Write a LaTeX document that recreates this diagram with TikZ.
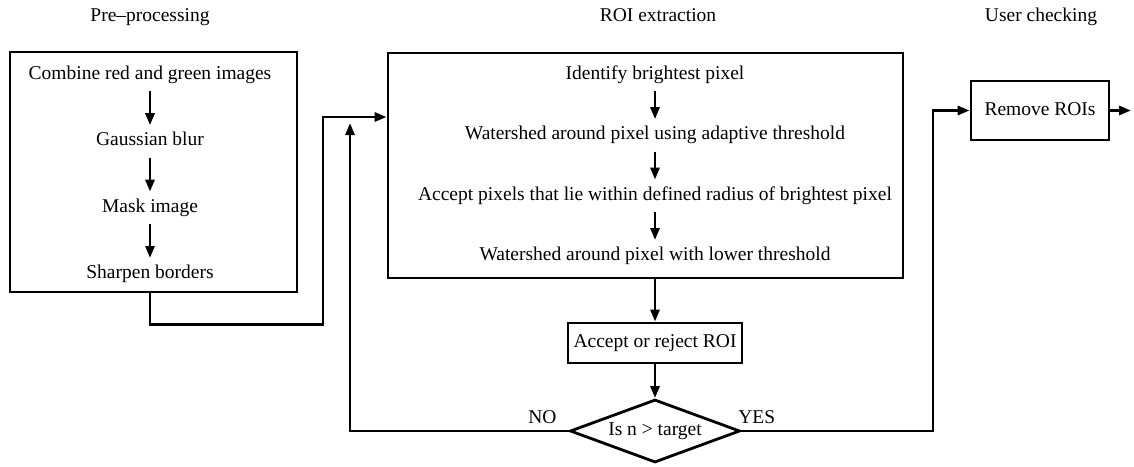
\documentclass[tikz,border=0pt]{standalone}
\usepackage{fontspec}
\setmainfont{Liberation Serif}
\usetikzlibrary{arrows.meta,positioning,shapes.geometric}
\tikzset{
  blk/.style={draw,line width=2.8pt,inner sep=0pt},
  txt/.style={font=\fontsize{19.5}{22}\selectfont,text height=13pt,text depth=4pt,
    inner xsep=2pt,inner ysep=7.5pt},
  dec/.style={blk,diamond,shape aspect=2.7,minimum width=170pt,minimum height=63pt,
    font=\fontsize{19.5}{22}\selectfont},
  arr/.style={-{Triangle[length=12pt,width=9pt]},line width=2.8pt},
}
\begin{document}
\begin{tikzpicture}[x=1pt,y=-1pt,node distance=28pt]
\useasboundingbox (0,0) rectangle (1134,466);
\node[txt] (tpre) at (150,17) {Pre--processing};
\node[txt] (troi) at (658,17) {ROI extraction};
\node[txt] (tusr) at (1041,17) {User checking};
\node[blk,minimum width=287pt,minimum height=240pt] (pre) at (153.5,172) {};
\node[txt] (comb) at (150,75) {Combine red and green images};
\node[txt,below=34pt of comb] (gauss) {Gaussian blur};
\node[txt,below=34pt of gauss] (mask) {Mask image};
\node[txt,below=34pt of mask] (sharp) {Sharpen borders};
\node[blk,minimum width=515pt,minimum height=225pt] (roi) at (645.5,165.5) {};
\node[txt] (iden) at (655,75) {Identify brightest pixel};
\node[txt,below=of iden] (ws1) {Watershed around pixel using adaptive threshold};
\node[txt,below=of ws1] (acp) {Accept pixels that lie within defined radius of brightest pixel};
\node[txt,below=of acp] (ws2) {Watershed around pixel with lower threshold};
\node[blk,txt,minimum width=174pt,minimum height=40pt] (acc) at (655,343) {Accept or reject ROI};
\node[dec] (dia) at (655,431) {Is n > target};
\node[blk,txt,minimum width=138pt,minimum height=59pt] (rem) at (1040,110.5) {Remove ROIs};
\coordinate (join) at (323,117);
\coordinate (back) at (350,123);
\coordinate (up) at (933,110.5);
\coordinate (out) at (1131,110.5);
\draw[arr] (comb)--(gauss); \draw[arr] (gauss)--(mask); \draw[arr] (mask)--(sharp);
\draw[arr] (iden)--(ws1); \draw[arr] (ws1)--(acp); \draw[arr] (acp)--(ws2);
\draw[arr] (pre.south -| sharp) -- ++(0,31) -| (join) -- (join -| roi.west);
\draw[arr] (acc.north |- roi.south) -- (acc.north);
\draw[arr] (acc) -- (dia);
\draw[arr] (dia.west) -| node[txt,pos=0.06,above,inner ysep=2pt]{NO} (back);
\draw[arr] (dia.east) -| node[txt,pos=0.04,above,inner ysep=2pt]{YES} (up) -- (rem.west);
\draw[arr] (rem) -- (out);
\end{tikzpicture}
\end{document}
